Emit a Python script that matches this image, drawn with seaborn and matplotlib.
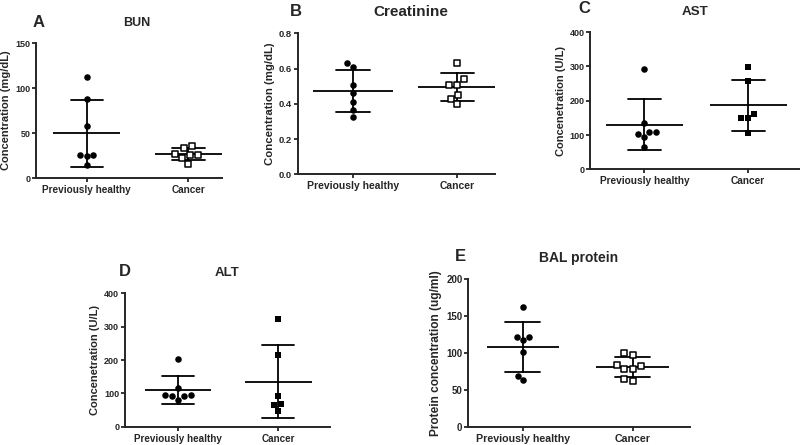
import matplotlib
matplotlib.use("Agg")
import matplotlib.pyplot as plt
import numpy as np
import pandas as pd
import seaborn as sns

sns.set_style("ticks")
plt.rcParams["font.family"] = ["Liberation Sans", "DejaVu Sans"]
plt.rcParams["font.weight"] = "bold"
plt.rcParams["axes.labelweight"] = "bold"

groups = ["Previously healthy", "Cancer"]

bun_healthy = [112, 88, 58, 26, 24, 26, 15]
bun_cancer = [33, 36, 26, 22, 26, 27, 16]
creat_healthy = [0.61, 0.63, 0.51, 0.46, 0.41, 0.365, 0.325]
creat_cancer = [0.63, 0.54, 0.51, 0.51, 0.45, 0.43, 0.40]
ast_healthy = [293, 134, 110, 103, 94, 108, 66]
ast_cancer = [298, 258, 149, 149, 162, 105]
alt_healthy = [202, 115, 94, 91, 81, 91, 94]
alt_cancer = [323, 216, 91, 68, 65, 48]
bal_healthy = [162, 122, 118, 122, 101, 63, 69]
bal_cancer = [97, 100, 84, 78, 78, 82, 62, 65]


def make_df(healthy, cancer):
    return pd.DataFrame({
        "group": [groups[0]] * len(healthy) + [groups[1]] * len(cancer),
        "value": list(healthy) + list(cancer),
    })


def draw_panel(ax, healthy, cancer, open_sq, ytop, ystep, fmt, ylabel,
               title, letter, title_xy, letter_xy, fs, mean_hw, xlim):
    df = make_df(healthy, cancer)
    sub_h = df[df.group == groups[0]]
    sub_c = df[df.group == groups[1]]
    sns.swarmplot(data=sub_h, x="group", y="value", order=groups, ax=ax,
                  marker="o", color="black", size=4.7, linewidth=0)
    if open_sq:
        sns.swarmplot(data=sub_c, x="group", y="value", order=groups, ax=ax,
                      marker="s", color="white", edgecolor="black",
                      linewidth=1.1, size=4.8)
    else:
        sns.swarmplot(data=sub_c, x="group", y="value", order=groups, ax=ax,
                      marker="s", color="black", size=5.0, linewidth=0)
    # mean +/- SD error bars
    sns.pointplot(data=df, x="group", y="value", order=groups, ax=ax,
                  errorbar="sd", capsize=0.32, linestyle="none", marker="",
                  color="black", err_kws={"linewidth": 1.3})
    means = df.groupby("group")["value"].mean().reindex(groups)
    pos = np.arange(len(groups))
    ax.hlines(means.values, pos - mean_hw, pos + mean_hw, color="black", lw=1.3)

    ax.set_xlim(*xlim)
    ax.set_ylim(0, ytop)
    ticks = np.arange(0, ytop + ystep / 2, ystep)
    ax.set_yticks(ticks)
    ax.set_yticklabels([fmt.format(v) for v in ticks])
    ax.set_xlabel("")
    ax.set_ylabel(ylabel, fontsize=fs["ylabel"], labelpad=3)
    ax.tick_params(axis="x", labelsize=fs["xtick"], length=3, width=1.3, pad=2)
    ax.tick_params(axis="y", labelsize=fs["ytick"], length=3, width=1.3, pad=1)
    for s in ["left", "bottom"]:
        ax.spines[s].set_linewidth(1.4)
    sns.despine(ax=ax)
    fig.text(title_xy[0], title_xy[1], title, ha="center", va="center",
             fontsize=fs["title"], fontweight="bold")
    fig.text(letter_xy[0], letter_xy[1], letter, ha="left", va="center",
             fontsize=12, fontweight="bold")


fig = plt.figure(figsize=(8, 4.45), dpi=100)

ax_a = fig.add_axes([0.045, 0.600, 0.2325, 0.303])
draw_panel(ax_a, bun_healthy, bun_cancer, True, 150, 50, "{:.0f}",
           "Concentration (mg/dL)", "BUN", "A", (0.171, 0.948), (0.041, 0.949),
           {"ylabel": 8.0, "xtick": 7.2, "ytick": 6.5, "title": 9}, 0.33, (-0.5, 1.33))

ax_b = fig.add_axes([0.372, 0.608, 0.2466, 0.317])
draw_panel(ax_b, creat_healthy, creat_cancer, True, 0.8, 0.2, "{:.1f}",
           "Concentration (mg/dL)", "Creatinine", "B", (0.513, 0.974), (0.3625, 0.974),
           {"ylabel": 8.2, "xtick": 7.5, "ytick": 6.8, "title": 11}, 0.38, (-0.53, 1.36))

ax_c = fig.add_axes([0.738, 0.6196, 0.262, 0.308])
draw_panel(ax_c, ast_healthy, ast_cancer, False, 400, 100, "{:.0f}",
           "Concenetration (U/L)", "AST", "C", (0.869, 0.974), (0.7225, 0.982),
           {"ylabel": 8.0, "xtick": 7.3, "ytick": 6.5, "title": 9.6}, 0.37, (-0.52, 1.5))

ax_d = fig.add_axes([0.156, 0.0411, 0.256, 0.2998])
draw_panel(ax_d, alt_healthy, alt_cancer, False, 400, 100, "{:.0f}",
           "Concenetration (U/L)", "ALT", "D", (0.284, 0.386), (0.149, 0.391),
           {"ylabel": 8.0, "xtick": 7.1, "ytick": 6.5, "title": 9.5}, 0.33, (-0.53, 1.51))

ax_e = fig.add_axes([0.585, 0.0411, 0.277, 0.332])
draw_panel(ax_e, bal_healthy, bal_cancer, True, 200, 50, "{:.0f}",
           "Protein concentration (ug/ml)", "BAL protein", "E", (0.723, 0.4196), (0.569, 0.4225),
           {"ylabel": 8.6, "xtick": 7.7, "ytick": 7.0, "title": 10}, 0.33, (-0.5, 1.52))

fig.savefig("out.png", dpi=100)
